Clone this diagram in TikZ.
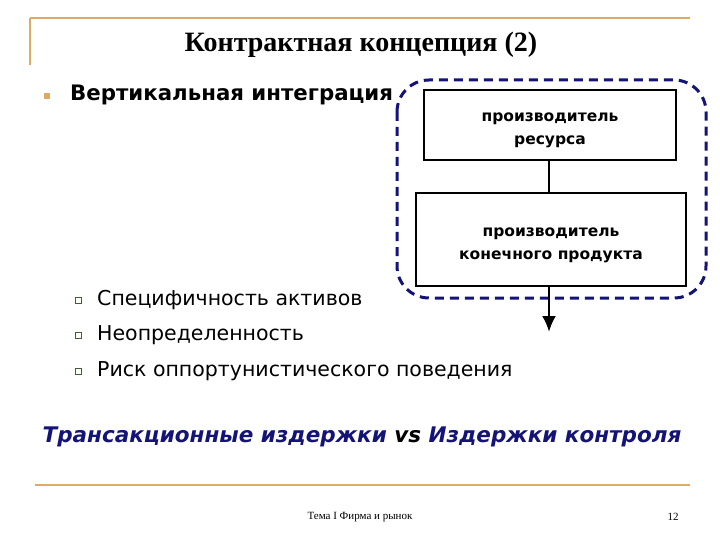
\documentclass[tikz,border=0pt]{standalone}
\usepackage{fontspec}
\usetikzlibrary{arrows.meta}
\setmainfont{Liberation Serif}
\newfontfamily\dv{DejaVu Sans}
\definecolor{orng}{RGB}{222,170,100}
\definecolor{navy}{RGB}{20,20,120}
\definecolor{grn}{RGB}{60,100,40}
\tikzset{box/.style={draw,line width=1.2pt,fill=white},
 boxtext/.style={align=center,font=\dv\bfseries\fontsize{15.5}{23}\selectfont},
 sq/.style={draw=grn,line width=0.6pt,minimum size=6pt,inner sep=0pt},
 item/.style={anchor=west,font=\dv\fontsize{20.5}{24}\selectfont,inner sep=0pt}}
\begin{document}
\begin{tikzpicture}[x=1pt,y=-1pt]
\useasboundingbox (0,0) rectangle (720,540);
\fill[white] (0,0) rectangle (720,540);
\draw[orng,line width=1.2pt] (30,18) -- (690,18);
\draw[orng,line width=1.2pt] (30,18) -- (30,65);
\node[font=\bfseries\fontsize{28}{32}\selectfont] (title) at (361,45) {Контрактная концепция (2)};
\node[fill=orng,minimum size=6pt,inner sep=0pt] (b0) at (47,96) {};
\node[anchor=west,inner sep=0pt,font=\dv\bfseries\fontsize{21.3}{24}\selectfont] (vi) at (70,95) {Вертикальная интеграция};
\draw[navy,line width=3pt,dash pattern=on 9pt off 6pt,rounded corners=32pt] (397,80) rectangle (706,298);
\node[box,minimum width=252pt,minimum height=70pt] (r1) at (550,125) {};
\node[boxtext] (r1t) at (550,130) {производитель\\ресурса};
\node[box,minimum width=270pt,minimum height=93pt] (r2) at (551,239.5) {};
\node[boxtext] (r2t) at (551,245) {производитель\\конечного продукта};
\coordinate (e) at (549,332);
\draw[line width=1.2pt] (r1.south -| 549,0) -- (r2.north -| 549,0);
\draw[line width=2.5pt,-{Latex[length=16pt,width=14pt]}] (r2.south -| 549,0) -- (e);
\node[sq] (s1) at (78,300) {}; \node[item] (t1) at (97,300) {Специфичность активов};
\node[sq] (s2) at (78,335) {}; \node[item] (t2) at (97,335) {Неопределенность};
\node[sq] (s3) at (78,371) {}; \node[item] (t3) at (97,371) {Риск оппортунистического поведения};
\node[font=\dv\bfseries\itshape\fontsize{21.5}{24}\selectfont] (tc) at (362,437) {\textcolor{navy}{Трансакционные издержки} vs \textcolor{navy}{Издержки контроля}};
\draw[orng,line width=1.5pt] (35,485) -- (690,485);
\node[font=\fontsize{11}{12}\selectfont] (ft) at (360,517) {Тема I Фирма и рынок};
\node[font=\fontsize{11}{12}\selectfont] (pg) at (673,517) {12};
\end{tikzpicture}
\end{document}
